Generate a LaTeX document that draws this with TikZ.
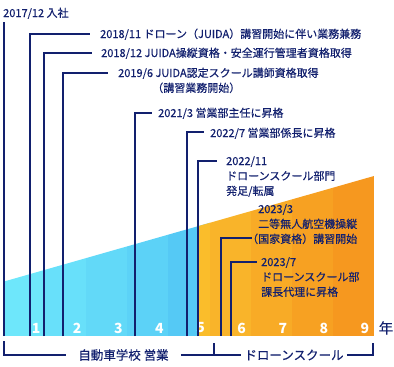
\documentclass[tikz,border=0pt]{standalone}
\usepackage{fontspec}
\setmainfont{Noto Sans CJK JP}
\newfontfamily\notefont[FakeBold=0.35]{Noto Sans CJK JP}
\usetikzlibrary{positioning,calc}
\definecolor{navy}{RGB}{18,32,110}
\definecolor{skyA}{RGB}{110,231,251}
\definecolor{skyB}{RGB}{104,224,250}
\definecolor{skyC}{RGB}{98,217,248}
\definecolor{skyD}{RGB}{92,210,247}
\definecolor{skyE}{RGB}{85,201,245}
\definecolor{sunA}{RGB}{250,189,43}
\definecolor{sunB}{RGB}{249,180,42}
\definecolor{sunC}{RGB}{248,171,38}
\definecolor{sunD}{RGB}{247,161,34}
\definecolor{sunE}{RGB}{246,152,31}
\newcommand{\rows}[1]{\begin{tabular}[t]{@{}l@{}}#1\end{tabular}}
\tikzset{
  tline/.style={draw=navy,line width=2pt},
  note/.style={text=navy,font=\notefont\fontsize{11}{15}\selectfont,anchor=base west,inner sep=0pt},
  yr/.style={text=white,font=\fontsize{14}{14}\selectfont\bfseries,inner sep=0pt},
  span/.style={text=navy,font=\notefont\fontsize{12.5}{13}\selectfont,inner ysep=0pt},
}
\begin{document}
\begin{tikzpicture}[x=1pt,y=-1pt]
  \useasboundingbox (0,0) rectangle (394,367);
  % wedge of years
  \begin{scope}
    \clip (4,281.5) -- (374,176) -- (374,336) -- (4,336) -- cycle;
    \foreach \k/\c in {1/skyA,2/skyB,3/skyC,4/skyD,5/skyE,6/sunB,7/sunC,8/sunD,9/sunE}
      \fill[\c] ({4+41.11*(\k-1)},150) rectangle ({4+41.11*\k},336);
    \fill[sunA] (198.3,150) rectangle (209.6,336);
  \end{scope}
  \foreach \k in {1,...,9}
    \node[yr] (n\k) at ({4+41.11*\k-9},328) {\k};
  \node[text=navy,font=\notefont\fontsize{14.5}{15}\selectfont,inner sep=0pt] (nen) at (386,328) {年};
  % events
  \node[note] (t0) at (3,17) {2017/12 入社};
  \node[note] (t1) at (100,38) {2018/11 ドローン（JUIDA）講習開始に伴い業務兼務};
  \node[note] (t2) at (101,57) {2018/12 JUIDA操縦資格・安全運行管理者資格取得};
  \node[note] (t3) at (118,77) {\rows{2019/6 JUIDA認定スクール講師資格取得\\\hspace*{3.1em}（講習業務開始）}};
  \node[note] (t4) at (158,117) {2021/3 営業部主任に昇格};
  \node[note] (t5) at (210,137) {2022/7 営業部係長に昇格};
  \node[note] (t6) at (226,165) {\rows{2022/11\\ドローンスクール部門\\発足/転属}};
  \node[note] (t7) at (258,213) {\rows{2023/3\\二等無人航空機操縦\\\hspace*{-1em}（国家資格）講習開始}};
  \node[note] (t8) at (261,266) {\rows{2023/7\\ドローンスクール部\\課長代理に昇格}};
  \coordinate (b0) at (4,336);
  \coordinate (e0) at (4,22);
  \draw[tline] (b0) -- (e0);
  \foreach \n/\x/\y/\e in {1/29.5/34/90,2/43.7/52.5/91.5,3/62.7/72.5/108,4/135/113/152,
      5/187.3/132.3/203.5,6/198.3/160.7/216.5,7/220.7/237.5/252,8/230.7/262.3/257}{
    \coordinate (b\n) at (\x,336);
    \coordinate (e\n) at (\e,\y);
    \draw[tline] (b\n) |- (e\n);
  }
  % spans
  \node[span,inner xsep=12pt] (sales) at (123.5,355) {自動車学校 営業};
  \node[span,inner xsep=3pt] (drone) at (294,355) {ドローンスクール};
  \coordinate (s0) at (4,341);
  \coordinate (s1) at (214,343);
  \coordinate (s2) at (373,343);
  \draw[tline] (s0) |- (sales.west);
  \draw[tline] (sales.east) -- (drone.west);
  \draw[tline] (s1) -- (s1 |- drone.west);
  \draw[tline] (drone.east) -| (s2);
\end{tikzpicture}
\end{document}
